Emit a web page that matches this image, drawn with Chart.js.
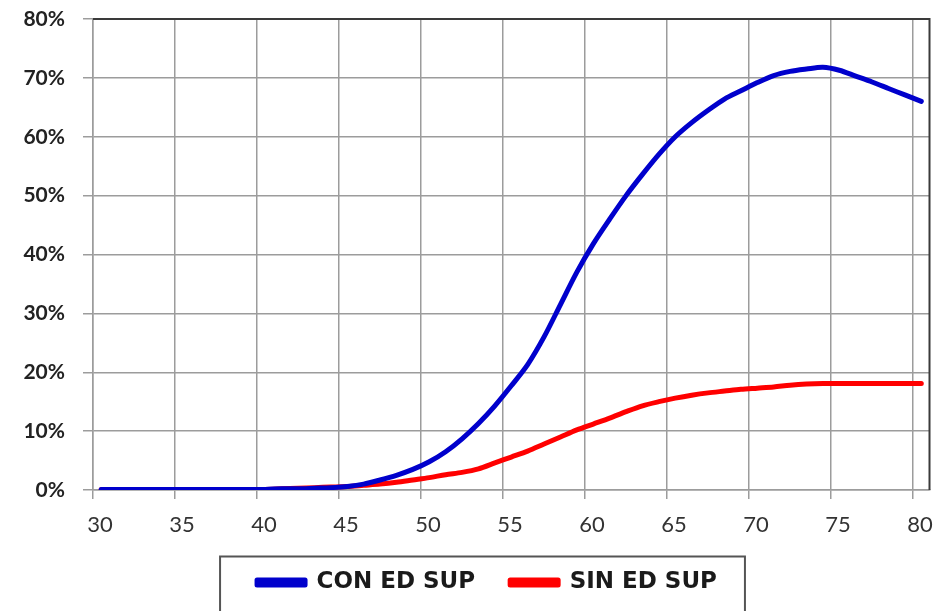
<!DOCTYPE html>
<html>
<head>
<meta charset="utf-8">
<script src="https://cdn.jsdelivr.net/npm/chart.js@4.4.1/dist/chart.umd.min.js"></script>
<style>
  html, body { margin: 0; padding: 0; background: #fff; }
  #wrap { width: 939px; height: 611px; }
</style>
</head>
<body>
<div id="wrap"><canvas id="grafico" width="939" height="611"></canvas></div>
<script>
// edades (punto medio de cada año)
const edades = [30.5, 31.5, 32.5, 33.5, 34.5, 35.5, 36.5, 37.5, 38.5, 39.5,
  40.5, 41.5, 42.5, 43.5, 44.5, 45.5, 46.5, 47.5, 48.5, 49.5,
  50.5, 51.5, 52.5, 53.5, 54.5, 55.5, 56.5, 57.5, 58.5, 59.5,
  60.5, 61.5, 62.5, 63.5, 64.5, 65.5, 66.5, 67.5, 68.5, 69.5,
  70.5, 71.5, 72.5, 73.5, 74.5, 75.5, 76.5, 77.5, 78.5, 79.5, 80.5];

// % con educación superior
const conEdSup = [0.1, 0.1, 0.1, 0.1, 0.1, 0.1, 0.1, 0.1, 0.1, 0.1,
  0.1, 0.2, 0.2, 0.3, 0.4, 0.6, 1.0, 1.7, 2.5, 3.5,
  4.8, 6.5, 8.7, 11.3, 14.3, 17.7, 21.3, 26.0, 31.5, 37.0,
  41.8, 46.0, 50.0, 53.6, 57.0, 60.0, 62.4, 64.5, 66.4, 67.8,
  69.2, 70.4, 71.1, 71.5, 71.8, 71.3, 70.3, 69.3, 68.2, 67.1, 66.0];

// % sin educación superior
const sinEdSup = [0.1, 0.1, 0.1, 0.1, 0.1, 0.1, 0.1, 0.1, 0.1, 0.1,
  0.1, 0.2, 0.3, 0.4, 0.5, 0.6, 0.8, 1.0, 1.3, 1.7,
  2.1, 2.6, 3.0, 3.6, 4.6, 5.6, 6.6, 7.8, 9.0, 10.2,
  11.2, 12.2, 13.3, 14.3, 15.0, 15.6, 16.1, 16.5, 16.8, 17.1,
  17.3, 17.5, 17.8, 18.0, 18.1, 18.1, 18.1, 18.1, 18.1, 18.1, 18.1];

const ticksX = [30, 35, 40, 45, 50, 55, 60, 65, 70, 75, 80];
const ticksY = [0, 10, 20, 30, 40, 50, 60, 70, 80];

const series = [
  { label: 'CON ED SUP', valores: conEdSup, color: '#0000CC' },
  { label: 'SIN ED SUP', valores: sinEdSup, color: '#FF0000' }
];

const FUENTE = 'Lato, "Open Sans", sans-serif';
const colorGrilla = '#9c9c9c';

// borde oscuro arriba y a la derecha, y recuadro de la leyenda
const bordes = {
  id: 'bordes',
  afterLayout(chart) {
    // la leyenda del original no está centrada en el lienzo
    chart.legend.left += 21;
    chart.legend.right += 21;
  },
  afterDraw(chart) {
    const { ctx, chartArea } = chart;
    ctx.save();
    ctx.strokeStyle = '#3a3a3a';
    ctx.lineWidth = 2;
    ctx.beginPath();
    ctx.moveTo(chartArea.left, chartArea.top);
    ctx.lineTo(chartArea.right, chartArea.top);
    ctx.lineTo(chartArea.right, chartArea.bottom);
    ctx.stroke();

    const cajas = chart.legend.legendHitBoxes;
    if (cajas && cajas.length) {
      const primera = cajas[0];
      const ultima = cajas[cajas.length - 1];
      const izq = primera.left - 37;
      const der = ultima.left + ultima.width + 28;
      const arriba = primera.top + primera.height / 2 - 26;
      ctx.strokeStyle = '#555';
      ctx.lineWidth = 2;
      ctx.strokeRect(izq, arriba, der - izq, chart.height - arriba + 10);
    }
    ctx.restore();
  }
};

const grafico = new Chart(document.getElementById('grafico'), {
  type: 'line',
  data: {
    datasets: series.map(s => ({
      label: s.label,
      data: edades.map((x, i) => ({ x, y: s.valores[i] })),
      borderColor: s.color,
      backgroundColor: s.color,
      borderWidth: 5,
      borderCapStyle: 'round',
      borderJoinStyle: 'round',
      pointRadius: 0,
      tension: 0.3,
      fill: false
    }))
  },
  options: {
    responsive: false,
    animation: false,
    layout: { autoPadding: false, padding: { top: 19, right: 7, bottom: 7, left: 0 } },
    plugins: {
      tooltip: { enabled: false },
      legend: {
        position: 'bottom',
        labels: {
          boxWidth: 48,
          boxHeight: 5,
          padding: 35,
          color: '#1a1a1a',
          font: { family: '"DejaVu Sans", sans-serif', size: 23, weight: 'bold' }
        }
      }
    },
    scales: {
      x: {
        type: 'linear',
        min: 30,
        max: 81,
        afterBuildTicks: axis => { axis.ticks = ticksX.map(v => ({ value: v })); },
        afterFit: scale => { scale.height = 46; },
        grid: { color: colorGrilla, lineWidth: 1.5, tickLength: 9, drawTicks: true },
        border: { color: colorGrilla, width: 1.5 },
        ticks: {
          color: '#333',
          padding: 13,
          labelOffset: 7,
          maxRotation: 0,
          font: { family: FUENTE, size: 22 }
        }
      },
      y: {
        min: 0,
        max: 80,
        afterBuildTicks: axis => { axis.ticks = ticksY.map(v => ({ value: v })); },
        afterFit: scale => {
          scale.width = 93;
          scale.paddingTop = 0;
          scale.paddingBottom = 0;
        },
        grid: { color: colorGrilla, lineWidth: 1.5, tickLength: 10 },
        border: { color: colorGrilla, width: 1.5 },
        ticks: {
          color: '#222',
          padding: 18,
          callback: v => v + '%',
          font: { family: FUENTE, size: 21, weight: 'bold' }
        }
      }
    }
  },
  plugins: [bordes]
});
</script>
</body>
</html>
